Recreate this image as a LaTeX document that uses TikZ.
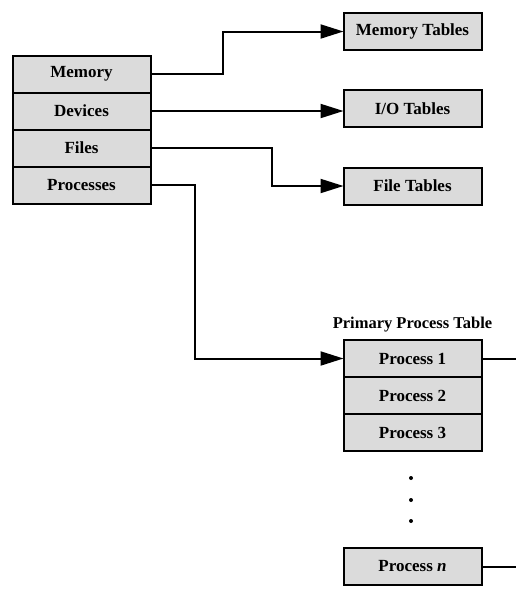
\documentclass[tikz,border=0pt]{standalone}
\usepackage{fontspec}
\setmainfont{Liberation Serif}
\usetikzlibrary{positioning, arrows.meta}

\tikzset{
    tbox/.style={draw, line width=2pt, fill=gray!28, minimum width=138pt,
        minimum height=37pt, inner sep=0pt, outer sep=0pt,
        font=\fontsize{17}{20}\selectfont\rmfamily\bfseries},
    conn/.style={line width=2pt},
    arr/.style={conn, -{Triangle[length=23pt, width=14pt]}}
}

\begin{document}
\begin{tikzpicture}[x=1pt, y=-1pt]
    % fix the page size
    \useasboundingbox (0,0) rectangle (516,590);

    % the master table
    \node[tbox] (mem)   at (81.5,74) {Memory};
    \node[tbox, below=0pt of mem]  (dev)   {Devices};
    \node[tbox, below=0pt of dev]  (files) {Files};
    \node[tbox, below=0pt of files] (procs) {Processes};

    % the other tables
    \node[tbox] (memtab)  at (412.5,31.5) {Memory Tables};
    \node[tbox] (iotab)   at (412.5,108.5) {I/O Tables};
    \node[tbox] (filetab) at (412.5,186)  {File Tables};

    % primary process table
    \node[tbox] (p1) at (412.5,358.5) {Process 1};
    \node[tbox, below=0pt of p1] (p2) {Process 2};
    \node[tbox, below=0pt of p2] (p3) {Process 3};
    \node[tbox] (pn) at (412.5,566.5) {Process \textit{n}};
    \node[above=4pt of p1, font=\fontsize{16.5}{19}\selectfont\rmfamily\bfseries] (ptitle) {Primary Process Table};

    % the dots
    \foreach \y in {478,500,521}
        \fill (411,\y) circle (2pt);

    \coordinate (p1out) at (516,358.5);
    \coordinate (pnout) at (516,566.5);

    % connectors
    \draw[arr] (mem.east) -- ++(72,0) |- (memtab.west);
    \draw[arr] (dev.east) -- (dev.east -| iotab.west);
    \draw[arr] (files.east) -- ++(121,0) |- (filetab.west);
    \draw[arr] (procs.east) -- ++(44,0) |- (p1.west);
    \draw[conn] (p1.east) -- (p1out);
    \draw[conn] (pn.east) -- (pnout);
\end{tikzpicture}
\end{document}
